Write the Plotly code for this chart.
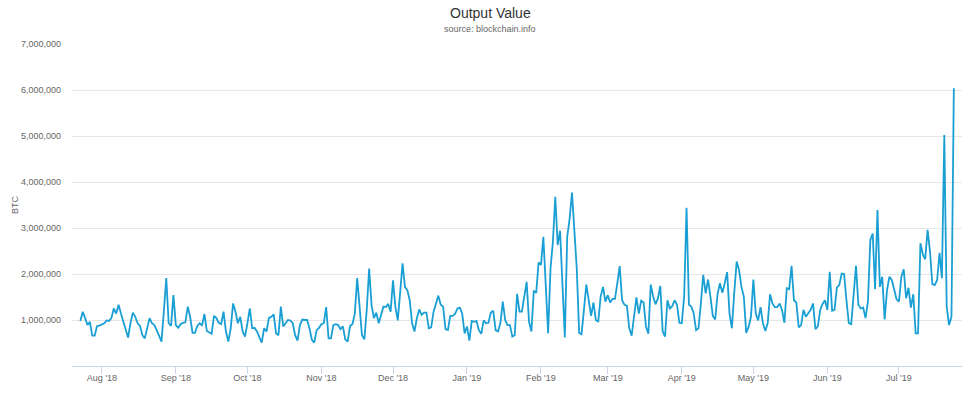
import pandas as pd
import plotly.graph_objects as go

title_text = "Output Value"
subtitle_text = "source: blockchain.info"
y_axis_title = "BTC"

start_date = "2018-07-23"
# daily total output value, millions of BTC
output_value_millions = [
    0.98, 1.18, 1.04, 0.89, 0.96, 0.66, 0.66, 0.87, 0.88, 0.91,
    0.93, 0.99, 0.98, 1.04, 1.25, 1.14, 1.33, 1.14, 0.96, 0.78,
    0.62, 0.93, 1.16, 1.07, 0.93, 0.87, 0.67, 0.60, 0.86, 1.04,
    0.93, 0.89, 0.78, 0.67, 0.53, 1.20, 1.91, 0.93, 0.87, 1.54,
    0.89, 0.83, 0.91, 0.94, 0.95, 1.29, 1.07, 0.72, 0.72, 0.87,
    0.93, 0.88, 1.13, 0.76, 0.72, 0.70, 1.09, 1.04, 0.94, 0.91,
    1.18, 0.75, 0.53, 0.82, 1.36, 1.18, 0.93, 1.07, 0.75, 0.64,
    0.93, 1.25, 0.82, 0.83, 0.75, 0.64, 0.51, 0.82, 0.75, 1.04,
    1.07, 1.12, 0.71, 0.67, 1.29, 0.86, 0.93, 1.00, 0.99, 0.93,
    0.67, 0.55, 0.89, 1.01, 1.00, 1.00, 0.82, 0.57, 0.51, 0.78,
    0.83, 0.91, 0.93, 1.28, 0.60, 0.60, 0.89, 0.91, 0.89, 0.80,
    0.86, 0.58, 0.53, 0.87, 0.91, 1.14, 1.91, 1.22, 0.67, 0.58,
    1.22, 2.12, 1.33, 1.04, 1.16, 0.93, 1.11, 1.29, 1.28, 1.35,
    1.18, 1.86, 1.29, 0.99, 1.60, 2.23, 1.72, 1.65, 1.43, 0.93,
    0.75, 1.04, 1.23, 1.11, 1.16, 1.16, 0.82, 0.84, 1.18, 1.38,
    1.53, 1.33, 1.29, 0.80, 0.78, 1.09, 1.09, 1.13, 1.25, 1.27,
    1.14, 0.71, 0.86, 0.55, 0.98, 0.96, 0.98, 0.78, 0.70, 0.99,
    0.93, 0.94, 1.16, 1.20, 0.78, 0.75, 0.93, 1.40, 1.00, 0.89,
    0.89, 0.64, 0.67, 1.57, 1.18, 1.18, 1.51, 1.83, 0.96, 0.75,
    1.64, 1.59, 2.25, 2.20, 2.81, 1.60, 0.71, 2.12, 2.70, 3.68,
    2.63, 2.94, 1.87, 0.62, 2.81, 3.20, 3.77, 2.81, 2.12, 0.72,
    0.69, 1.22, 1.77, 1.43, 1.09, 1.38, 1.00, 0.96, 1.51, 1.72,
    1.40, 1.54, 1.38, 1.46, 1.46, 1.80, 2.17, 1.43, 1.33, 1.31,
    0.82, 0.66, 1.14, 1.49, 1.14, 1.42, 1.38, 0.86, 0.70, 1.77,
    1.51, 1.34, 1.47, 1.74, 0.75, 0.64, 1.43, 1.25, 1.30, 1.43,
    1.33, 0.94, 0.93, 1.51, 3.44, 1.33, 1.29, 1.14, 0.78, 0.82,
    1.36, 1.98, 1.58, 1.88, 1.51, 1.09, 1.01, 1.57, 1.80, 1.59,
    1.80, 2.04, 1.14, 0.82, 1.60, 2.27, 2.09, 1.72, 1.51, 0.72,
    0.85, 1.07, 1.88, 1.14, 0.99, 1.28, 0.93, 0.76, 0.93, 1.56,
    1.36, 1.28, 1.28, 1.36, 1.22, 0.94, 1.69, 1.67, 2.18, 1.43,
    1.38, 0.84, 0.89, 1.22, 1.07, 1.16, 1.22, 1.36, 0.80, 0.86,
    1.22, 1.35, 1.43, 1.22, 2.05, 1.20, 1.22, 1.71, 1.76, 2.01,
    2.00, 1.43, 0.93, 0.91, 1.58, 2.18, 1.33, 1.25, 1.27, 1.04,
    1.40, 2.74, 2.88, 1.67, 3.39, 1.72, 1.94, 1.01, 1.65, 1.94,
    1.87, 1.65, 1.45, 1.40, 1.94, 2.10, 1.47, 1.70, 1.27, 1.56,
    0.71, 0.71, 2.67, 2.43, 2.32, 2.96, 2.49, 1.78, 1.76, 1.87,
    2.46, 1.91, 5.02, 1.29, 0.89, 1.07, 6.04,
]

tick_dates = ["2018-08-01", "2018-09-01", "2018-10-01", "2018-11-01", "2018-12-01",
              "2019-01-01", "2019-02-01", "2019-03-01", "2019-04-01", "2019-05-01",
              "2019-06-01", "2019-07-01"]
tick_labels = ["Aug '18", "Sep '18", "Oct '18", "Nov '18", "Dec '18", "Jan '19",
               "Feb '19", "Mar '19", "Apr '19", "May '19", "Jun '19", "Jul '19"]
y_tick_values = [1000000, 2000000, 3000000, 4000000, 5000000, 6000000, 7000000]

dates = pd.date_range(start_date, periods=len(output_value_millions), freq="D")
values = [v * 1_000_000 for v in output_value_millions]

fig = go.Figure()
fig.add_trace(go.Scatter(
    x=dates, y=values, mode="lines",
    line=dict(color="#1a9fd4", width=1.8),
    name="Output Value", showlegend=False,
))

FONT = "Liberation Sans, Arial, sans-serif"
PLOT_L, PLOT_R = 72, 962
title_x = (490 - PLOT_L) / (PLOT_R - PLOT_L)
fig.update_layout(
    width=980, height=395,
    margin=dict(l=PLOT_L, r=980 - PLOT_R, t=44, b=29, autoexpand=False),
    paper_bgcolor="white", plot_bgcolor="white",
    font=dict(family=FONT, color="#666666", size=9),
    annotations=[
        dict(text=title_text, xref="paper", yref="paper", x=title_x, y=1, yshift=31,
             xanchor="center", yanchor="middle", showarrow=False,
             font=dict(size=14, color="#333333", family=FONT)),
        dict(text=subtitle_text, xref="paper", yref="paper", x=title_x, y=1, yshift=15,
             xanchor="center", yanchor="middle", showarrow=False,
             font=dict(size=9, color="#666666", family=FONT)),
        dict(text=y_axis_title, xref="paper", yref="paper", x=0, xshift=-57, y=0.5,
             xanchor="center", yanchor="middle", textangle=-90, showarrow=False,
             font=dict(size=9, color="#666666", family=FONT)),
    ],
    showlegend=False,
)
fig.update_xaxes(
    range=["2018-07-19 12:00", "2019-07-27 10:00"],
    tickmode="array", tickvals=tick_dates, ticktext=tick_labels,
    showgrid=False, showline=True, linecolor="#ccd6eb", linewidth=1,
    ticks="outside", ticklen=7, tickcolor="#ccd6eb", tickwidth=1,
    ticklabelstandoff=-4,
    tickfont=dict(size=9, color="#666666"), zeroline=False, automargin=False,
)
fig.update_yaxes(
    range=[0, 7000000], tickmode="array", tickvals=y_tick_values,
    tickformat=",d", showgrid=True, gridcolor="#e6e6e6", gridwidth=1,
    zeroline=False, showline=False, ticks="", ticklabelstandoff=10,
    tickfont=dict(size=9, color="#666666"), automargin=False,
)

fig.write_html("out.html", config={"displayModeBar": False},
               post_script="document.body.style.margin='0px';")
